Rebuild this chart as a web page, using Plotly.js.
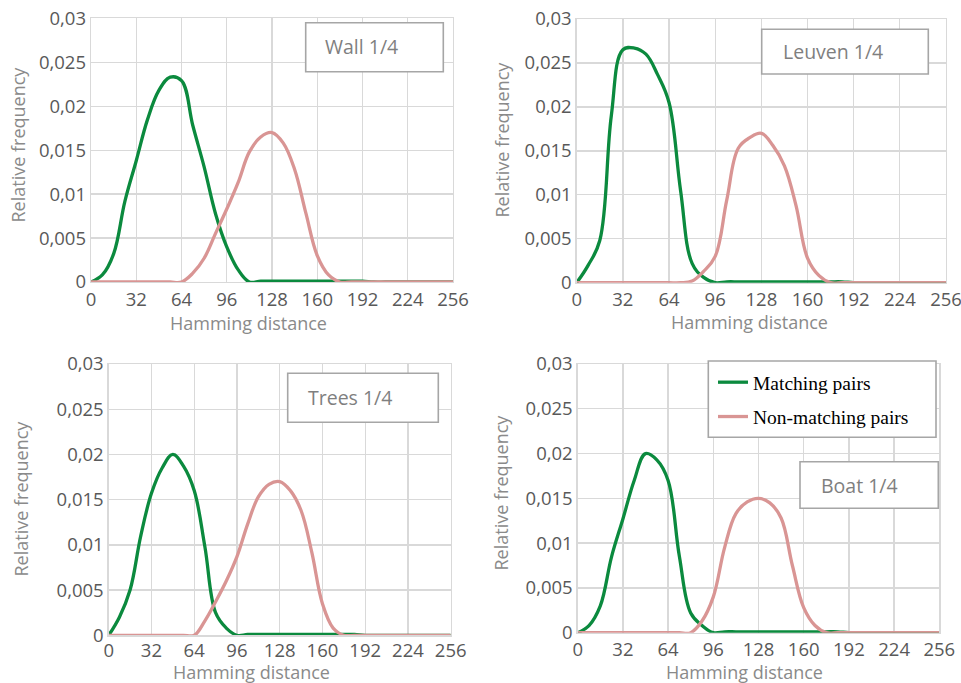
<!DOCTYPE html>
<html>
<head>
<meta charset="utf-8">
<script src="https://cdn.plot.ly/plotly-3.0.1.min.js"></script>
<style>html,body{margin:0;padding:0;background:#fff;}#chart{width:961px;height:683px;}</style>
</head>
<body>
<div id="chart"></div>
<script>
// ---- data ----
const hammingDistance = [0, 8, 16, 24, 32, 40, 48, 56, 64, 72, 80, 88, 96, 104, 112, 120, 128,
  136, 144, 152, 160, 168, 176, 184, 192, 200, 208, 216, 224, 232, 240, 248, 256];

const panelNames = ['Wall 1/4', 'Leuven 1/4', 'Trees 1/4', 'Boat 1/4'];
const seriesNames = ['Matching pairs', 'Non-matching pairs'];

const wallMatching = [0, 0.0008, 0.0032, 0.0092, 0.0138, 0.0185, 0.0218, 0.0233, 0.0229, 0.0178, 0.0131, 0.0078, 0.004, 0.0014, 0, 0.0001, 0.0001,
  0.0001, 0.0001, 0.0001, 0.0001, 0.0001, 0.0001, 0.0001, 0.0001, 0, 0, 0, 0, 0, 0, 0, 0];
const wallNonMatching = [0, 0, 0, 0, 0, 0, 0, 0, 0, 0.001, 0.0027, 0.0055, 0.0083, 0.0113, 0.0148, 0.0165, 0.017,
  0.0158, 0.0128, 0.0078, 0.003, 0.0008, 0, 0, 0, 0, 0, 0, 0, 0, 0, 0, 0];

const leuvenMatching = [0, 0.002, 0.0048, 0.019, 0.0265, 0.0267, 0.026, 0.0237, 0.0205, 0.0105, 0.0022, 0.0006, 0, 0.0001, 0.0001, 0.0001, 0.0001,
  0.0001, 0.0001, 0.0001, 0.0001, 0.0001, 0.0001, 0.0001, 0, 0, 0, 0, 0, 0, 0, 0, 0];
const leuvenNonMatching = [0, 0, 0, 0, 0, 0, 0, 0, 0, 0, 0.0002, 0.0013, 0.003, 0.0094, 0.0153, 0.0165, 0.017,
  0.0156, 0.0133, 0.0088, 0.0028, 0.0008, 0, 0, 0, 0, 0, 0, 0, 0, 0, 0, 0];

const treesMatching = [0, 0.002, 0.005, 0.011, 0.0157, 0.0185, 0.02, 0.0187, 0.016, 0.0098, 0.0025, 0.0008, 0, 0.0001, 0.0001, 0.0001, 0.0001,
  0.0001, 0.0001, 0.0001, 0.0001, 0.0001, 0.0001, 0.0001, 0, 0, 0, 0, 0, 0, 0, 0, 0];
const treesNonMatching = [0, 0, 0, 0, 0, 0, 0, 0, 0, 0.0016, 0.0037, 0.006, 0.0087, 0.0123, 0.0153, 0.0167, 0.017,
  0.016, 0.0138, 0.0092, 0.0035, 0.0008, 0, 0, 0, 0, 0, 0, 0, 0, 0, 0, 0];

const boatMatching = [0, 0.0008, 0.003, 0.0085, 0.0127, 0.017, 0.02, 0.0193, 0.017, 0.0085, 0.0022, 0.0008, 0, 0.0001, 0.0001, 0.0001, 0.0001,
  0.0001, 0.0001, 0.0001, 0.0001, 0.0001, 0.0001, 0.0001, 0, 0, 0, 0, 0, 0, 0, 0, 0];
const boatNonMatching = [0, 0, 0, 0, 0, 0, 0, 0, 0, 0, 0, 0.0013, 0.004, 0.0095, 0.0133, 0.0146, 0.015,
  0.0145, 0.0128, 0.0075, 0.0028, 0.0008, 0, 0, 0, 0, 0, 0, 0, 0, 0, 0, 0];

const xTickVals = [0, 32, 64, 96, 128, 160, 192, 224, 256];
const xTickText = ['0', '32', '64', '96', '128', '160', '192', '224', '256'];
const yTickVals = [0, 0.005, 0.01, 0.015, 0.02, 0.025, 0.03];
const yTickText = ['0', '0,005', '0,01', '0,015', '0,02', '0,025', '0,03'];
const xTitle = 'Hamming distance';
const yTitle = 'Relative frequency';

// ---- styling / layout ----
const W = 961, H = 683;
const px = v => v / W;
const py = v => 1 - v / H;
const GREEN = '#0b8a3e', PINK = '#d99594';
const tickFont = {family: 'Open Sans', size: 18.5, color: '#595959'};
const titleFont = {family: 'Open Sans', size: 18, color: '#8a8a8a'};

const matching = [wallMatching, leuvenMatching, treesMatching, boatMatching];
const nonMatching = [wallNonMatching, leuvenNonMatching, treesNonMatching, boatNonMatching];

// plot areas in pixels: [left, right, top, bottom]
const areas = [
  [91, 453, 18.3, 282],
  [576.7, 946, 19, 282.7],
  [108.7, 450.7, 364, 635.3],
  [577.7, 939.3, 364, 632.7]
];
const xLabelStandoff = [0, 0, -2, 0];

const traces = [];
for (let i = 0; i < 4; i++) {
  const sfx = i === 0 ? '' : String(i + 1);
  traces.push({
    x: hammingDistance, y: matching[i], xaxis: 'x' + sfx, yaxis: 'y' + sfx,
    type: 'scatter', mode: 'lines', name: seriesNames[0], legendgroup: 'm',
    showlegend: i === 3, line: {color: GREEN, width: 3.3, shape: 'spline', smoothing: 1.1},
    hoverinfo: 'skip'
  });
}
for (let i = 0; i < 4; i++) {
  const sfx = i === 0 ? '' : String(i + 1);
  traces.push({
    x: hammingDistance, y: nonMatching[i], xaxis: 'x' + sfx, yaxis: 'y' + sfx,
    type: 'scatter', mode: 'lines', name: seriesNames[1], legendgroup: 'n',
    showlegend: i === 3, line: {color: PINK, width: 3.3, shape: 'spline', smoothing: 1.1},
    hoverinfo: 'skip'
  });
}

const layout = {
  width: W, height: H,
  margin: {l: 0, r: 0, t: 0, b: 0},
  paper_bgcolor: '#ffffff', plot_bgcolor: '#ffffff',
  showlegend: true,
  legend: {
    x: px(713), y: py(363), xanchor: 'left', yanchor: 'top',
    bgcolor: 'rgba(0,0,0,0)', borderwidth: 0,
    font: {family: 'Liberation Serif', size: 19.5, color: '#000000'},
    traceorder: 'grouped', tracegroupgap: 6
  },
  shapes: [],
  annotations: []
};

areas.forEach((a, i) => {
  const sfx = i === 0 ? '' : String(i + 1);
  layout['xaxis' + sfx] = {
    domain: [px(a[0]), px(a[1])], anchor: 'y' + sfx, range: [0, 256],
    tickmode: 'array', tickvals: xTickVals, ticktext: xTickText,
    showgrid: true, gridcolor: '#d9d9d9', gridwidth: 1.3,
    showline: true, mirror: true, linecolor: '#d9d9d9', linewidth: 1.3,
    zeroline: false, ticks: '', tickfont: tickFont, fixedrange: true,
    ticklabeloverflow: 'allow', ticklabelstandoff: xLabelStandoff[i]
  };
  layout['yaxis' + sfx] = {
    domain: [py(a[3]), py(a[2])], anchor: 'x' + sfx, range: [0, 0.03],
    tickmode: 'array', tickvals: yTickVals, ticktext: yTickText,
    showgrid: true, gridcolor: '#d9d9d9', gridwidth: 1.3,
    showline: true, mirror: true, linecolor: '#d9d9d9', linewidth: 1.3,
    zeroline: false, ticks: '', tickfont: tickFont, fixedrange: true,
    ticklabeloverflow: 'allow'
  };
});

// axis titles
const xTitlePos = [[249, 323], [749, 321.5], [251, 672], [744.7, 671.5]];
const yTitlePos = [[18, 144.5], [502, 139.5], [20, 498.5], [500, 492.5]];
xTitlePos.forEach(p => layout.annotations.push({
  xref: 'paper', yref: 'paper', x: px(p[0]), y: py(p[1]), xanchor: 'center', yanchor: 'middle',
  text: xTitle, showarrow: false, font: titleFont
}));
yTitlePos.forEach(p => layout.annotations.push({
  xref: 'paper', yref: 'paper', x: px(p[0]), y: py(p[1]), xanchor: 'center', yanchor: 'middle',
  text: yTitle, showarrow: false, font: titleFont, textangle: -90
}));

// panel label boxes
const boxes = [
  [305.7, 22.7, 443.3, 71.7],
  [761.7, 29.3, 928.3, 74],
  [287.7, 373.3, 438.3, 422.3],
  [800, 461.7, 938.3, 508.3]
];
const labelPos = [[323, 46.5], [781, 51.7], [306, 397.3], [819, 485]];
boxes.forEach(b => layout.shapes.push({
  type: 'rect', xref: 'paper', yref: 'paper', x0: px(b[0]), x1: px(b[2]), y0: py(b[3]), y1: py(b[1]),
  line: {color: '#a6a6a6', width: 1.6}, fillcolor: '#ffffff', layer: 'above'
}));
// legend box
layout.shapes.push({
  type: 'rect', xref: 'paper', yref: 'paper', x0: px(708.3), x1: px(936), y0: py(437.3), y1: py(361),
  line: {color: '#a6a6a6', width: 1.6}, fillcolor: '#ffffff', layer: 'above'
});
labelPos.forEach((p, i) => layout.annotations.push({
  xref: 'paper', yref: 'paper', x: px(p[0]), y: py(p[1]), xanchor: 'left', yanchor: 'middle',
  text: panelNames[i], showarrow: false, font: {family: 'Open Sans', size: 19.5, color: '#7f7f7f'}
}));

Plotly.newPlot('chart', traces, layout, {staticPlot: true, displayModeBar: false});
</script>
</body>
</html>
